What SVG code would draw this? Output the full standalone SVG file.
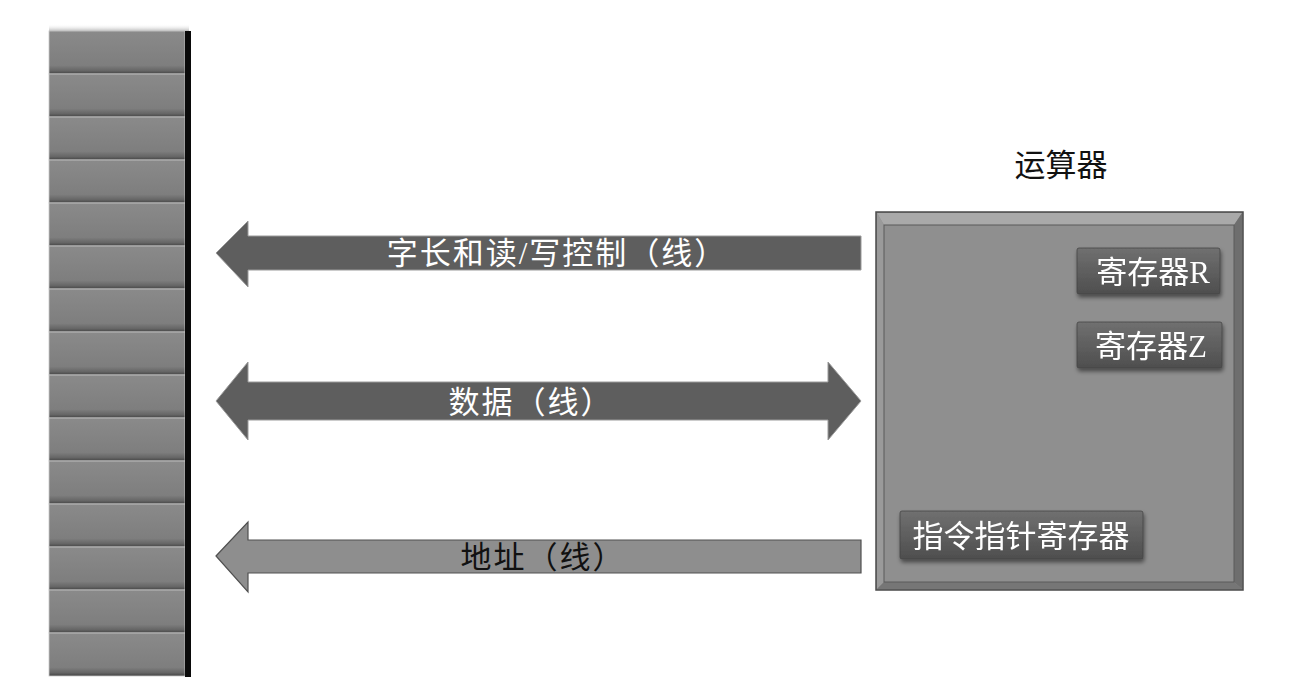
<svg xmlns="http://www.w3.org/2000/svg" width="1291" height="700" viewBox="0 0 1291 700">
<defs>
<linearGradient id="cellG" x1="0" y1="0" x2="0" y2="1">
<stop offset="0" stop-color="#8a8a8a"/><stop offset="0.8" stop-color="#7e7e7e"/><stop offset="0.92" stop-color="#666666"/><stop offset="1" stop-color="#444444"/>
</linearGradient>
<linearGradient id="btnG" x1="0" y1="0" x2="0" y2="1">
<stop offset="0" stop-color="#707070"/><stop offset="1" stop-color="#4e4e4e"/>
</linearGradient>
<linearGradient id="topShade" x1="0" y1="0" x2="0" y2="1">
<stop offset="0" stop-color="#ffffff" stop-opacity="0"/><stop offset="1" stop-color="#aaaaaa"/>
</linearGradient>
<filter id="sh" x="-10%" y="-10%" width="130%" height="140%">
<feGaussianBlur in="SourceAlpha" stdDeviation="2"/><feOffset dx="1" dy="3"/>
<feComponentTransfer><feFuncA type="linear" slope="0.5"/></feComponentTransfer>
<feMerge><feMergeNode/><feMergeNode in="SourceGraphic"/></feMerge>
</filter>
<style>
.cell{fill:url(#cellG);stroke:#c8c8c8;stroke-width:0.8}
.lbl{font-family:"Liberation Serif","Noto Sans CJK SC",serif;font-size:31px}
.sp{letter-spacing:2px}
.w{fill:#ffffff}
.k{fill:#111111}
.btn{fill:url(#btnG);stroke:#444;stroke-width:0.8}
.darr{fill:#5e5e5e;stroke:#9a9a9a;stroke-width:1}
.larr{fill:#8e8e8e;stroke:#505050;stroke-width:1.2}
</style>
</defs>
<rect width="1291" height="700" fill="#ffffff"/>

<g id="memory">
<rect x="49" y="24" width="140" height="8" fill="url(#topShade)"/>
<rect class="cell" x="49" y="31" width="136" height="43"/>
<rect class="cell" x="49" y="74" width="136" height="43"/>
<rect class="cell" x="49" y="117" width="136" height="43"/>
<rect class="cell" x="49" y="160" width="136" height="43"/>
<rect class="cell" x="49" y="203" width="136" height="43"/>
<rect class="cell" x="49" y="246" width="136" height="43"/>
<rect class="cell" x="49" y="289" width="136" height="43"/>
<rect class="cell" x="49" y="332" width="136" height="43"/>
<rect class="cell" x="49" y="375" width="136" height="43"/>
<rect class="cell" x="49" y="418" width="136" height="43"/>
<rect class="cell" x="49" y="461" width="136" height="43"/>
<rect class="cell" x="49" y="504" width="136" height="43"/>
<rect class="cell" x="49" y="547" width="136" height="43"/>
<rect class="cell" x="49" y="590" width="136" height="43"/>
<rect class="cell" x="49" y="633" width="136" height="43"/>
<rect x="185" y="31" width="6" height="646" fill="#0a0a0a"/>
</g>

<g id="connectors">
<g id="bus-control">
<polygon class="darr" points="216,253 248,221 248,236 861,236 861,270 248,270 248,287"/>
<text class="lbl sp w" x="557" y="264" text-anchor="middle">字长和读/写控制（线）</text>
</g>
<g id="bus-data">
<polygon class="darr" points="216,401 248,362 248,382 828,382 828,362 861,401 828,440 828,420 248,420 248,440"/>
<text class="lbl sp w" x="531" y="413" text-anchor="middle">数据（线）</text>
</g>
<g id="bus-address">
<polygon class="larr" points="216,556 248,522 248,540 861,540 861,573 248,573 248,592"/>
<text class="lbl sp k" x="543" y="568" text-anchor="middle">地址（线）</text>
</g>
</g>

<g id="alu">
<text class="lbl k" x="1061" y="176" text-anchor="middle">运算器</text>
<rect x="876" y="212" width="367" height="378" fill="#8c8c8c" stroke="#4a4a4a" stroke-width="1.5"/>
<polygon points="877,213 1242,213 1234,225 884,225" fill="#a9a9a9"/>
<polygon points="877,213 884,225 884,582 877,589" fill="#9a9a9a"/>
<polygon points="1242,213 1242,589 1234,582 1234,225" fill="#6e6e6e"/>
<polygon points="877,589 1242,589 1234,582 884,582" fill="#767676"/>
<rect x="884" y="225" width="350" height="357" fill="#8f8f8f" stroke="#5a5a5a" stroke-width="1"/>
</g>

<g id="reg-r" filter="url(#sh)">
<rect class="btn" x="1077" y="248" width="143" height="46" rx="2"/>
<text class="lbl w" x="1153" y="283" text-anchor="middle">寄存器R</text>
</g>
<g id="reg-z" filter="url(#sh)">
<rect class="btn" x="1077" y="322" width="145" height="46" rx="2"/>
<text class="lbl w" x="1151" y="357" text-anchor="middle">寄存器Z</text>
</g>
<g id="reg-ip" filter="url(#sh)">
<rect class="btn" x="900" y="511" width="243" height="48" rx="2"/>
<text class="lbl w" x="1021" y="547" text-anchor="middle">指令指针寄存器</text>
</g>
</svg>
